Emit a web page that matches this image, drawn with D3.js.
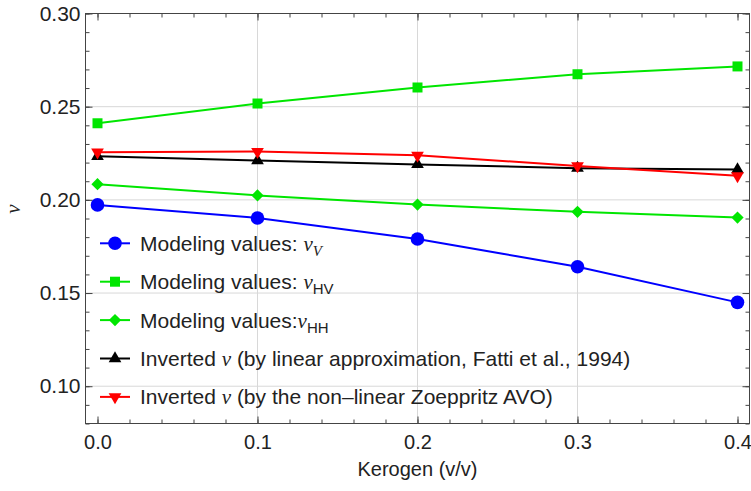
<!DOCTYPE html>
<html>
<head>
<meta charset="utf-8">
<script src="https://cdn.jsdelivr.net/npm/d3@7"></script>
<style>
  html, body { margin: 0; padding: 0; background: #fff; }
  svg { display: block; }
  text { font-family: "Liberation Sans", Arial, sans-serif; }
  .nu { font-family: "Liberation Serif", "DejaVu Serif", serif; font-style: italic; }
</style>
</head>
<body>
<svg id="chart" width="751" height="491"></svg>
<script>
// Kerogen volume fraction (x) and Poisson's ratio estimates (y)
const kerogen = [0.0, 0.1, 0.2, 0.3, 0.4];
const nuV      = [0.1973, 0.1903, 0.1790, 0.1641, 0.1450];
const nuHV     = [0.2411, 0.2517, 0.2603, 0.2674, 0.2716];
const nuHH     = [0.2084, 0.2024, 0.1975, 0.1936, 0.1905];
const invLin   = [0.2234, 0.2211, 0.2190, 0.2170, 0.2163];
const invZoep  = [0.2256, 0.2259, 0.2239, 0.2182, 0.2129];
const xTicks = [0.0, 0.1, 0.2, 0.3, 0.4];
const yTicks = [0.10, 0.15, 0.20, 0.25, 0.30];

const seriesList = [
  { values: nuV,     color: "#0000ff", shape: "circle",  label: ["Modeling values: ", "ν", "V", true] },
  { values: nuHV,    color: "#00e600", shape: "square",  label: ["Modeling values: ", "ν", "HV", false] },
  { values: nuHH,    color: "#00e600", shape: "diamond", label: ["Modeling values:", "ν", "HH", false] },
  { values: invLin,  color: "#000000", shape: "triUp",   label: ["Inverted ", "ν", " (by linear approximation, Fatti et al., 1994)"] },
  { values: invZoep, color: "#ff0000", shape: "triDown", label: ["Inverted ", "ν", " (by the non\u2013linear Zoeppritz AVO)"] }
];

const svg = d3.select("#chart");
const pLeft = 85.5, pRight = 749.5, pTop = 13.5, pBottom = 423.5;
const fontSize = 21;

const x = d3.scaleLinear().domain([-0.0075, 0.4075]).range([pLeft, pRight]);
const y = d3.scaleLinear().domain([0.08, 0.30]).range([pBottom, pTop]);

// grid
const grid = svg.append("g");
grid.selectAll("line.gx").data([0.1, 0.2, 0.3]).join("line")
  .attr("x1", d => x(d)).attr("x2", d => x(d))
  .attr("y1", pTop).attr("y2", pBottom)
  .attr("stroke", "#d8d8d8").attr("stroke-width", 1);
grid.selectAll("line.gy").data([0.10, 0.15, 0.20, 0.25]).join("line")
  .attr("y1", d => y(d)).attr("y2", d => y(d))
  .attr("x1", pLeft).attr("x2", pRight)
  .attr("stroke", "#d8d8d8").attr("stroke-width", 1);

// frame ticks (inward, on all four sides)
const xMinor = d3.range(0, 0.4001, 0.02);
const yMinor = d3.range(0.08, 0.3001, 0.01);
const frameColor = "#444";

function tickAxis(axisFn, scale, ticks, size, transform) {
  const g = svg.append("g").attr("transform", transform)
    .call(axisFn(scale).tickValues(ticks).tickSize(size).tickFormat(""));
  g.select(".domain").remove();
  g.selectAll(".tick line").attr("stroke", frameColor);
  return g;
}
tickAxis(d3.axisBottom, x, xMinor, -4, `translate(0,${pBottom})`);
tickAxis(d3.axisBottom, x, xTicks, -7, `translate(0,${pBottom})`);
tickAxis(d3.axisTop, x, xMinor, -4, `translate(0,${pTop})`);
tickAxis(d3.axisTop, x, xTicks, -7, `translate(0,${pTop})`);
tickAxis(d3.axisLeft, y, yMinor, -4, `translate(${pLeft},0)`);
tickAxis(d3.axisLeft, y, yTicks, -7, `translate(${pLeft},0)`);
tickAxis(d3.axisRight, y, yMinor, -4, `translate(${pRight},0)`);
tickAxis(d3.axisRight, y, yTicks, -7, `translate(${pRight},0)`);

// tick labels
const xLab = svg.append("g").attr("transform", `translate(0,${pBottom})`)
  .call(d3.axisBottom(x).tickValues(xTicks).tickSize(0).tickPadding(11).tickFormat(d3.format(".1f")));
xLab.select(".domain").remove();
xLab.selectAll("text").attr("font-size", 20).attr("fill", "#222")
  .style("font-family", "'Liberation Sans', Arial, sans-serif");

const yLab = svg.append("g").attr("transform", `translate(${pLeft},0)`)
  .call(d3.axisLeft(y).tickValues(yTicks).tickSize(0).tickPadding(5).tickFormat(d3.format(".2f")));
yLab.select(".domain").remove();
yLab.selectAll("text").attr("font-size", fontSize).attr("fill", "#222")
  .style("font-family", "'Liberation Sans', Arial, sans-serif");

// frame
svg.append("rect").attr("x", pLeft).attr("y", pTop)
  .attr("width", pRight - pLeft).attr("height", pBottom - pTop)
  .attr("fill", "none").attr("stroke", frameColor).attr("stroke-width", 1);

// axis titles
svg.append("text").attr("x", (pLeft + pRight) / 2).attr("y", 476)
  .attr("text-anchor", "middle").attr("font-size", fontSize - 1).attr("fill", "#222")
  .text("Kerogen (v/v)");
svg.append("text").attr("class", "nu")
  .attr("transform", "translate(20,209) rotate(-90)")
  .attr("text-anchor", "middle").attr("font-size", fontSize).attr("fill", "#222")
  .text("ν");

// markers
function markerPath(shape) {
  switch (shape) {
    case "circle":  return d3.symbol(d3.symbolCircle, 145)();
    case "square":  return d3.symbol(d3.symbolSquare, 100)();
    case "diamond": return d3.symbol(d3.symbolSquare, 75)();
    case "triUp":
    case "triDown": return d3.symbol(d3.symbolTriangle, 70)();
  }
}
function markerRotation(shape) {
  return shape === "diamond" ? 45 : shape === "triDown" ? 180 : 0;
}

const line = d3.line().x((d, i) => x(kerogen[i])).y(d => y(d));
const plot = svg.append("g");
seriesList.forEach(s => {
  const g = plot.append("g");
  g.append("path").datum(s.values).attr("d", line)
    .attr("fill", "none").attr("stroke", s.color).attr("stroke-width", 2);
  g.selectAll("path.m").data(s.values).join("path").attr("class", "m")
    .attr("d", markerPath(s.shape))
    .attr("transform", (d, i) => `translate(${x(kerogen[i])},${y(d)}) rotate(${markerRotation(s.shape)})`)
    .attr("fill", s.color);
});

// legend
const legend = svg.append("g");
seriesList.forEach((s, i) => {
  const cy = 243.3 + i * 38.4;
  const g = legend.append("g").attr("transform", `translate(0,${cy})`);
  g.append("line").attr("x1", 100).attr("x2", 130).attr("y1", 0).attr("y2", 0)
    .attr("stroke", s.color).attr("stroke-width", 2);
  g.append("path").attr("d", markerPath(s.shape))
    .attr("transform", `translate(115,0) rotate(${markerRotation(s.shape)})`)
    .attr("fill", s.color);
  const t = g.append("text").attr("x", 140).attr("y", 7.5).attr("font-size", fontSize).attr("fill", "#222");
  t.append("tspan").text(s.label[0]);
  t.append("tspan").attr("class", "nu").text(s.label[1]);
  if (i < 3) {
    t.append("tspan").attr("font-size", 15).attr("dy", 5)
      .attr("class", s.label[3] ? "nu" : null)
      .style("font-family", s.label[3] ? null : "'Liberation Sans', Arial, sans-serif")
      .text(s.label[2]);
  } else {
    t.append("tspan").text(s.label[2]);
  }
});
</script>
</body>
</html>
